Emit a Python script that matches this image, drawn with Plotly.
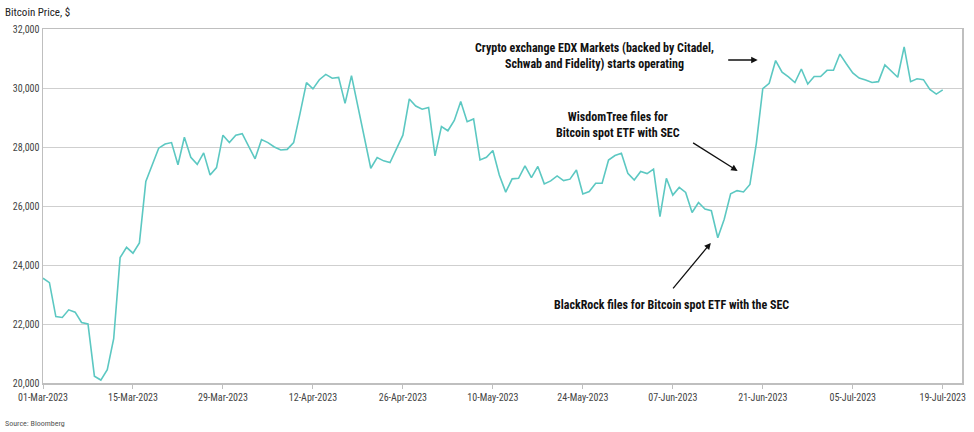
import pandas as pd
import plotly.graph_objects as go

start_date = "2023-03-01"
prices = [
    23550, 23400, 22250, 22220, 22480, 22400, 22050, 22000, 20230, 20100,
    20450, 21500, 24250, 24600, 24400, 24750, 26830, 27400, 27960, 28100,
    28150, 27400, 28330, 27650, 27410, 27800, 27050, 27300, 28400, 28150,
    28400, 28450, 28050, 27600, 28250, 28150, 28000, 27900, 27920, 28150,
    29140, 30180, 29970, 30280, 30460, 30330, 30360, 29480, 30420, 29370,
    28330, 27280, 27640, 27530, 27470, 27950, 28400, 29630, 29390, 29280,
    29340, 27700, 28690, 28550, 28900, 29540, 28860, 28950, 27560, 27650,
    27880, 27050, 26470, 26920, 26940, 27360, 26960, 27340, 26750, 26850,
    27020, 26860, 26910, 27220, 26410, 26490, 26770, 26770, 27560, 27710,
    27790, 27110, 26880, 27170, 27100, 27250, 25640, 26940, 26370, 26630,
    26460, 25780, 26120, 25900, 25840, 24925, 25550, 26410, 26520, 26475,
    26730, 28125, 29980, 30160, 30930, 30535, 30380, 30185, 30645, 30135,
    30390, 30390, 30600, 30600, 31150, 30820, 30510, 30335, 30275, 30185,
    30215, 30785, 30580, 30365, 31395, 30215, 30315, 30282, 29950, 29795,
    29935,
]
dates = pd.date_range(start_date, periods=len(prices), freq="D")

y_ticks = [20000, 22000, 24000, 26000, 28000, 30000, 32000]
y_tick_labels = [f"{v:,}" for v in y_ticks]

annotation_texts = [
    "Crypto exchange EDX Markets (backed by Citadel,<br>Schwab and Fidelity) starts operating",
    "WisdomTree files for<br>Bitcoin spot ETF with SEC",
    "BlackRock files for Bitcoin spot ETF with the SEC",
]

FONT = "Liberation Sans Narrow, Arial Narrow, Roboto Condensed, Liberation Sans, sans-serif"

fig = go.Figure()
fig.add_trace(go.Scatter(
    x=dates, y=prices, mode="lines",
    line=dict(color="#5cc8c2", width=1.6),
    hoverinfo="skip", showlegend=False,
))

fig.update_layout(
    width=974, height=432,
    margin=dict(l=43, r=12, t=29, b=49, autoexpand=False),
    paper_bgcolor="white", plot_bgcolor="white",
    font=dict(family=FONT, size=10, color="#333333"),
    showlegend=False,
    hovermode=False,
)

fig.update_xaxes(
    range=["2023-03-01", "2023-07-22"],
    tick0="2023-03-01", dtick=14 * 86400000,
    tickformat="%d-%b-%Y",
    ticks="outside", ticklen=4, tickcolor="#bfbfbf",
    showgrid=False, automargin=False,
    showline=True, linecolor="#bfbfbf", linewidth=1.5, mirror=True,
    tickfont=dict(size=10, color="#444444"),
)
fig.update_yaxes(
    range=[20000, 32000],
    tickvals=y_ticks, ticktext=y_tick_labels,
    showgrid=True, gridcolor="#cfcfcf", gridwidth=1, automargin=False,
    showline=True, linecolor="#bfbfbf", linewidth=1.5, mirror=True,
    ticks="", tickfont=dict(size=10, color="#444444"),
    zeroline=False,
)

# Titles
fig.add_annotation(text="Bitcoin Price, $", xref="paper", yref="paper",
                   x=-40 / 919, y=1 + 17 / 354, xanchor="left", yanchor="middle",
                   showarrow=False, font=dict(size=11, color="#222222", family=FONT))
fig.add_annotation(text="Source: Bloomberg", xref="paper", yref="paper",
                   x=-40 / 919, y=-40 / 354, xanchor="left", yanchor="middle",
                   showarrow=False, font=dict(size=8, color="#555555", family=FONT))

# Event texts
text_pos = [("2023-05-25 19:00", 31100), ("2023-05-29 10:00", 28730), ("2023-06-06 20:00", 22660)]
for t, (tx, ty) in zip(annotation_texts, text_pos):
    fig.add_annotation(text=f"<b>{t}</b>", x=tx, y=ty, xanchor="center", yanchor="middle",
                       showarrow=False, align="center",
                       font=dict(size=12, color="#111111", family=FONT))

# Arrows
arrows = [("2023-06-20 05:00", 30950, -31, 0),
          ("2023-06-17 02:00", 27190, -46, -29),
          ("2023-06-12 22:00", 24750, -39, 47)]
for hx, hy, ax, ay in arrows:
    fig.add_annotation(text="", x=hx, y=hy, ax=ax, ay=ay, showarrow=True,
                       arrowhead=2, arrowsize=1, arrowwidth=1.3, arrowcolor="#111111")

fig.write_html(
    "out.html",
    config={"displayModeBar": False, "staticPlot": True},
    post_script="document.body.style.margin='0';document.body.style.overflow='hidden';",
)
